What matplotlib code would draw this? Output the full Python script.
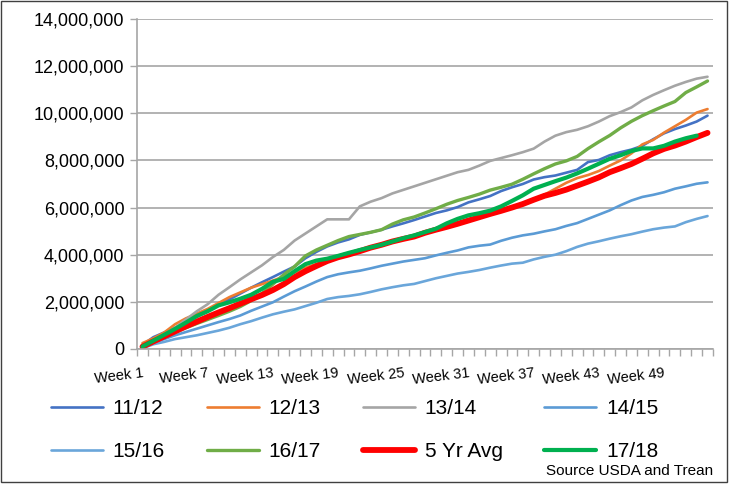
import numpy as np
import matplotlib
matplotlib.use("Agg")
import matplotlib.pyplot as plt
from matplotlib.patches import Rectangle
from matplotlib.ticker import FuncFormatter, FixedLocator

plt.rcParams["font.family"] = ["Liberation Sans", "DejaVu Sans"]

# cumulative values (millions) per week
weeks = list(range(1, 54))
week_labels = ["Week %d" % w for w in weeks]

s_1112 = [0.17, 0.5, 0.7, 0.9, 1.13, 1.36, 1.6, 1.89, 2.1, 2.35,
          2.6, 2.83, 3.05, 3.28, 3.5, 3.85, 4.12, 4.35, 4.52, 4.65,
          4.84, 4.95, 5.06, 5.2, 5.33, 5.47, 5.62, 5.77, 5.88, 6.02,
          6.22, 6.35, 6.49, 6.7, 6.86, 7.0, 7.19, 7.29, 7.36, 7.48,
          7.6, 7.93, 8.02, 8.22, 8.35, 8.46, 8.62, 8.9, 9.15, 9.33,
          9.48, 9.65, 9.9]
s_1213 = [0.25, 0.45, 0.7, 1.05, 1.3, 1.5, 1.7, 1.95, 2.2, 2.4,
          2.6, 2.75, 2.9, 3.07, 3.25, 3.45, 3.6, 3.75, 3.9, 4.05,
          4.2, 4.32, 4.45, 4.58, 4.7, 4.82, 4.95, 5.08, 5.2, 5.32,
          5.45, 5.58, 5.72, 5.85, 6.0, 6.15, 6.35, 6.55, 6.8, 7.05,
          7.25, 7.38, 7.55, 7.78, 8.0, 8.3, 8.68, 8.87, 9.18, 9.45,
          9.72, 10.03, 10.18]
s_1314 = [0.15, 0.35, 0.6, 0.9, 1.25, 1.6, 1.9, 2.3, 2.62, 2.95,
          3.25, 3.55, 3.9, 4.2, 4.6, 4.9, 5.2, 5.5, 5.5, 5.5,
          6.05, 6.25, 6.4, 6.6, 6.75, 6.9, 7.05, 7.2, 7.35, 7.5,
          7.6, 7.78, 7.98, 8.1, 8.22, 8.35, 8.5, 8.8, 9.05, 9.2,
          9.3, 9.45, 9.65, 9.88, 10.05, 10.25, 10.55, 10.78, 10.98, 11.17,
          11.33, 11.47, 11.55]
s_1415 = [0.05, 0.25, 0.42, 0.58, 0.72, 0.86, 1.0, 1.14, 1.27, 1.42,
          1.62, 1.8, 1.98, 2.22, 2.45, 2.65, 2.86, 3.05, 3.17, 3.25,
          3.32, 3.42, 3.53, 3.62, 3.71, 3.78, 3.85, 3.97, 4.08, 4.18,
          4.31, 4.38, 4.43, 4.59, 4.72, 4.82, 4.89, 4.99, 5.08, 5.22,
          5.34, 5.52, 5.7, 5.88, 6.1, 6.3, 6.45, 6.54, 6.65, 6.8,
          6.9, 7.01, 7.07]
s_1516 = [0.03, 0.2, 0.3, 0.42, 0.5, 0.58, 0.68, 0.78, 0.9, 1.05,
          1.18, 1.33, 1.47, 1.58, 1.68, 1.82, 1.96, 2.12, 2.2, 2.25,
          2.32, 2.42, 2.53, 2.62, 2.7, 2.76, 2.88, 3.0, 3.1, 3.2,
          3.27, 3.35, 3.45, 3.54, 3.62, 3.66, 3.8, 3.91, 4.0, 4.15,
          4.33, 4.47, 4.57, 4.68, 4.78, 4.87, 4.98, 5.08, 5.15, 5.2,
          5.38, 5.52, 5.64]
s_1617 = [0.1, 0.3, 0.5, 0.7, 0.9, 1.08, 1.25, 1.42, 1.6, 1.8,
          2.05, 2.35, 2.75, 3.15, 3.5, 3.95, 4.2, 4.4, 4.6, 4.77,
          4.86, 4.95, 5.06, 5.3, 5.48, 5.6, 5.77, 5.95, 6.14, 6.3,
          6.43, 6.57, 6.74, 6.86, 6.99, 7.2, 7.43, 7.65, 7.85, 7.98,
          8.17, 8.5, 8.79, 9.06, 9.38, 9.66, 9.9, 10.11, 10.31, 10.5,
          10.88, 11.12, 11.37]
s_avg = [0.1, 0.32, 0.53, 0.75, 0.96, 1.16, 1.36, 1.55, 1.73, 1.92,
         2.11, 2.29, 2.5, 2.75, 3.05, 3.3, 3.52, 3.73, 3.89, 4.01,
         4.15, 4.3, 4.42, 4.56, 4.67, 4.77, 4.93, 5.06, 5.18, 5.31,
         5.45, 5.59, 5.73, 5.86, 6.0, 6.15, 6.33, 6.5, 6.62, 6.76,
         6.93, 7.1, 7.28, 7.5, 7.67, 7.85, 8.07, 8.3, 8.49, 8.63,
         8.8, 8.99, 9.17]
s_1718 = [0.1, 0.35, 0.6, 0.85, 1.12, 1.4, 1.6, 1.85, 1.98, 2.13,
          2.3, 2.55, 2.85, 2.97, 3.3, 3.6, 3.75, 3.83, 3.95, 4.08,
          4.2, 4.31, 4.42, 4.56, 4.7, 4.82, 4.96, 5.1, 5.33, 5.52,
          5.67, 5.76, 5.87, 6.05, 6.28, 6.52, 6.8, 6.96, 7.12, 7.27,
          7.45, 7.65, 7.86, 8.07, 8.22, 8.4, 8.51, 8.51, 8.62, 8.8,
          8.94, 9.05]

series = [
    ("11/12", s_1112, "#4472C4", 1.9),
    ("12/13", s_1213, "#ED7D31", 1.9),
    ("13/14", s_1314, "#A5A5A5", 1.9),
    ("14/15", s_1415, "#5B9BD5", 1.9),
    ("15/16", s_1516, "#6AA6DA", 1.9),
    ("16/17", s_1617, "#70AD47", 2.4),
    ("5 Yr Avg", s_avg, "#FF0000", 4.2),
    ("17/18", s_1718, "#00B050", 3.0),
]

fig = plt.figure(figsize=(7.29, 4.84), dpi=100)
ax = fig.add_axes([0.188, 0.279, 0.790, 0.6817])

for name, vals, col, lw in series:
    v = np.array(vals) * 1e6
    ax.plot(weeks[:len(v)], v, color=col, lw=lw, label=name,
            solid_capstyle="round", solid_joinstyle="round")

grid_c = "#A6A6A6"
ax.set_xlim(0.5, 53.5)
ax.set_ylim(0, 14e6)
ax.set_yticks(np.arange(0, 14e6 + 1, 2e6))
ax.yaxis.set_major_formatter(FuncFormatter(lambda y, p: "{:,.0f}".format(y)))
ax.grid(axis="y", color=grid_c, lw=1.2)
ax.set_axisbelow(True)

# category axis: labels every 6th week, tick marks on boundaries
ax.xaxis.set_major_locator(FixedLocator(weeks[::6]))
ax.set_xticklabels(week_labels[::6], rotation=7, ha="right",
                   rotation_mode="anchor", fontsize=10.5)
ax.xaxis.set_minor_locator(FixedLocator(np.arange(0.5, 54, 1)))
ax.tick_params(axis="x", which="major", length=0, pad=12)
ax.tick_params(axis="x", which="minor", length=5, width=1, color=grid_c)
ax.tick_params(axis="y", length=5, width=1, color=grid_c, labelsize=13, pad=4)

for s in ["top", "right"]:
    ax.spines[s].set_visible(False)
for s in ["left", "bottom"]:
    ax.spines[s].set_color(grid_c)
    ax.spines[s].set_linewidth(1.2)

# legend reads row by row, matplotlib fills column by column
handles, labels = ax.get_legend_handles_labels()
order = [0, 4, 1, 5, 2, 6, 3, 7]
fig.legend([handles[i] for i in order], [labels[i] for i in order],
           ncol=4, loc="upper left", bbox_to_anchor=(0.058, 0.192),
           frameon=False, fontsize=15, handlelength=2.5,
           handletextpad=0.48, columnspacing=2.0, labelspacing=1.15,
           borderaxespad=0)

fig.text(0.978, 0.027, "Source USDA and Trean", ha="right", va="center",
         fontsize=11)

fig.patches.append(Rectangle((0.002, 0.004), 0.995, 0.994,
                             transform=fig.transFigure, fill=False,
                             edgecolor="#404040", lw=1))

fig.savefig("out.png", dpi=100)
